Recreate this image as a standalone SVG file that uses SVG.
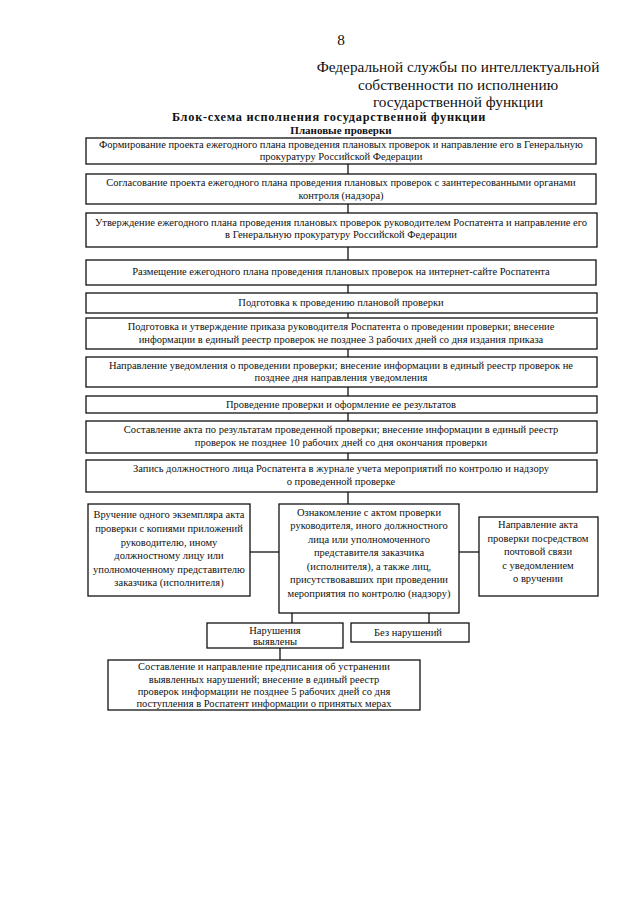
<svg xmlns="http://www.w3.org/2000/svg" width="640" height="905" viewBox="0 0 640 905">
<style>
.bx{fill:#fff;stroke:#111;stroke-width:1.3}
.t{font-family:"Liberation Serif","Times New Roman",serif;font-size:10.5px;fill:#111;text-anchor:middle}
.h{font-family:"Liberation Serif","Times New Roman",serif;font-size:15.3px;fill:#111;text-anchor:middle}
.ttl{font-family:"Liberation Serif","Times New Roman",serif;font-weight:bold;fill:#111;text-anchor:middle}
.c{stroke:#111;stroke-width:1.3;fill:none}
</style>
<rect width="640" height="905" fill="#fff"/>
<g id="header">
<text class="h" x="341" y="45" font-size="16">8</text>
<text class="h" x="458" y="72">Федеральной службы по интеллектуальной</text>
<text class="h" x="458" y="90">собственности по исполнению</text>
<text class="h" x="458" y="107">государственной функции</text>
<text class="ttl" x="329" y="121" font-size="12.3" letter-spacing="0.75">Блок-схема исполнения государственной функции</text>
<text class="ttl" x="341" y="134" font-size="11">Плановые проверки</text>
</g>
<g id="connectors">
<line class="c" x1="348" y1="164" x2="348" y2="174"/>
<line class="c" x1="348" y1="204" x2="348" y2="213"/>
<line class="c" x1="348" y1="247" x2="348" y2="260"/>
<line class="c" x1="348" y1="285" x2="348" y2="293"/>
<line class="c" x1="348" y1="313" x2="348" y2="318"/>
<line class="c" x1="348" y1="349" x2="348" y2="357"/>
<line class="c" x1="348" y1="387" x2="348" y2="396"/>
<line class="c" x1="348" y1="413" x2="348" y2="421"/>
<line class="c" x1="348" y1="453" x2="348" y2="460"/>
<line class="c" x1="348" y1="492" x2="348" y2="504"/>
<line class="c" x1="250" y1="552" x2="279" y2="552"/>
<line class="c" x1="459" y1="552" x2="479" y2="552"/>
<line class="c" x1="292" y1="613" x2="292" y2="623"/>
<line class="c" x1="429" y1="613" x2="429" y2="623"/>
<line class="c" x1="280" y1="648" x2="280" y2="660"/>
</g>
<g id="n1"><rect class="bx" x="86" y="138" width="510" height="26"/>
<text class="t" x="341" y="148">Формирование проекта ежегодного плана проведения плановых проверок и направление его в Генеральную</text>
<text class="t" x="341" y="160">прокуратуру Российской Федерации</text></g>
<g id="n2"><rect class="bx" x="86" y="174" width="510" height="30"/>
<text class="t" x="341" y="186">Согласование проекта ежегодного плана проведения плановых проверок с заинтересованными органами</text>
<text class="t" x="341" y="199">контроля (надзора)</text></g>
<g id="n3"><rect class="bx" x="86" y="213" width="511" height="34"/>
<text class="t" x="341" y="226">Утверждение ежегодного плана проведения плановых проверок руководителем Роспатента и направление его</text>
<text class="t" x="341" y="238">в Генеральную прокуратуру Российской Федерации</text></g>
<g id="n4"><rect class="bx" x="86" y="260" width="510" height="25"/>
<text class="t" x="341" y="275">Размещение ежегодного плана проведения плановых проверок на интернет-сайте Роспатента</text></g>
<g id="n5"><rect class="bx" x="86" y="293" width="511" height="20"/>
<text class="t" x="341" y="306">Подготовка к проведению плановой проверки</text></g>
<g id="n6"><rect class="bx" x="86" y="318" width="511" height="31"/>
<text class="t" x="341" y="330">Подготовка и утверждение приказа руководителя Роспатента о проведении проверки; внесение</text>
<text class="t" x="341" y="343">информации в единый реестр проверок не позднее 3 рабочих дней со дня издания приказа</text></g>
<g id="n7"><rect class="bx" x="86" y="357" width="511" height="30"/>
<text class="t" x="341" y="369">Направление уведомления о проведении проверки; внесение информации в единый реестр проверок не</text>
<text class="t" x="341" y="381">позднее дня направления уведомления</text></g>
<g id="n8"><rect class="bx" x="86" y="396" width="511" height="17"/>
<text class="t" x="341" y="408">Проведение проверки и оформление ее результатов</text></g>
<g id="n9"><rect class="bx" x="86" y="421" width="511" height="32"/>
<text class="t" x="341" y="433">Составление акта по результатам проведенной проверки; внесение информации в единый реестр</text>
<text class="t" x="341" y="446">проверок не позднее 10 рабочих дней со дня окончания проверки</text></g>
<g id="n10"><rect class="bx" x="86" y="460" width="511" height="32"/>
<text class="t" x="341" y="472">Запись должностного лица Роспатента в журнале учета мероприятий по контролю и надзору</text>
<text class="t" x="341" y="485">о проведенной проверке</text></g>
<g id="n11"><rect class="bx" x="88" y="504" width="162" height="92"/>
<text class="t" x="169" y="518">Вручение одного экземпляра акта</text>
<text class="t" x="169" y="532">проверки с копиями приложений</text>
<text class="t" x="169" y="546">руководителю, иному</text>
<text class="t" x="169" y="559">должностному лицу или</text>
<text class="t" x="169" y="573">уполномоченному представителю</text>
<text class="t" x="169" y="586">заказчика (исполнителя)</text></g>
<g id="n12"><rect class="bx" x="279" y="504" width="180" height="109"/>
<text class="t" x="369" y="516">Ознакомление с актом проверки</text>
<text class="t" x="369" y="529">руководителя, иного должностного</text>
<text class="t" x="369" y="543">лица или уполномоченного</text>
<text class="t" x="369" y="556">представителя заказчика</text>
<text class="t" x="369" y="570">(исполнителя), а также лиц,</text>
<text class="t" x="369" y="583">присутствовавших при проведении</text>
<text class="t" x="369" y="597">мероприятия по контролю (надзору)</text></g>
<g id="n13"><rect class="bx" x="479" y="517" width="119" height="79"/>
<text class="t" x="538" y="528">Направление акта</text>
<text class="t" x="538" y="542">проверки посредством</text>
<text class="t" x="538" y="555">почтовой связи</text>
<text class="t" x="538" y="569">с уведомлением</text>
<text class="t" x="538" y="582">о вручении</text></g>
<g id="n14"><rect class="bx" x="207" y="623" width="136" height="25"/>
<text class="t" x="275" y="634">Нарушения</text>
<text class="t" x="275" y="645">выявлены</text></g>
<g id="n15"><rect class="bx" x="351" y="623" width="118" height="19"/>
<text class="t" x="408" y="636">Без нарушений</text></g>
<g id="n16"><rect class="bx" x="108" y="660" width="312" height="50"/>
<text class="t" x="264" y="670">Составление и направление предписания об устранении</text>
<text class="t" x="264" y="683">выявленных нарушений; внесение в единый реестр</text>
<text class="t" x="264" y="695">проверок информации не позднее 5 рабочих дней со дня</text>
<text class="t" x="264" y="707">поступления в Роспатент информации о принятых мерах</text></g>
</svg>
